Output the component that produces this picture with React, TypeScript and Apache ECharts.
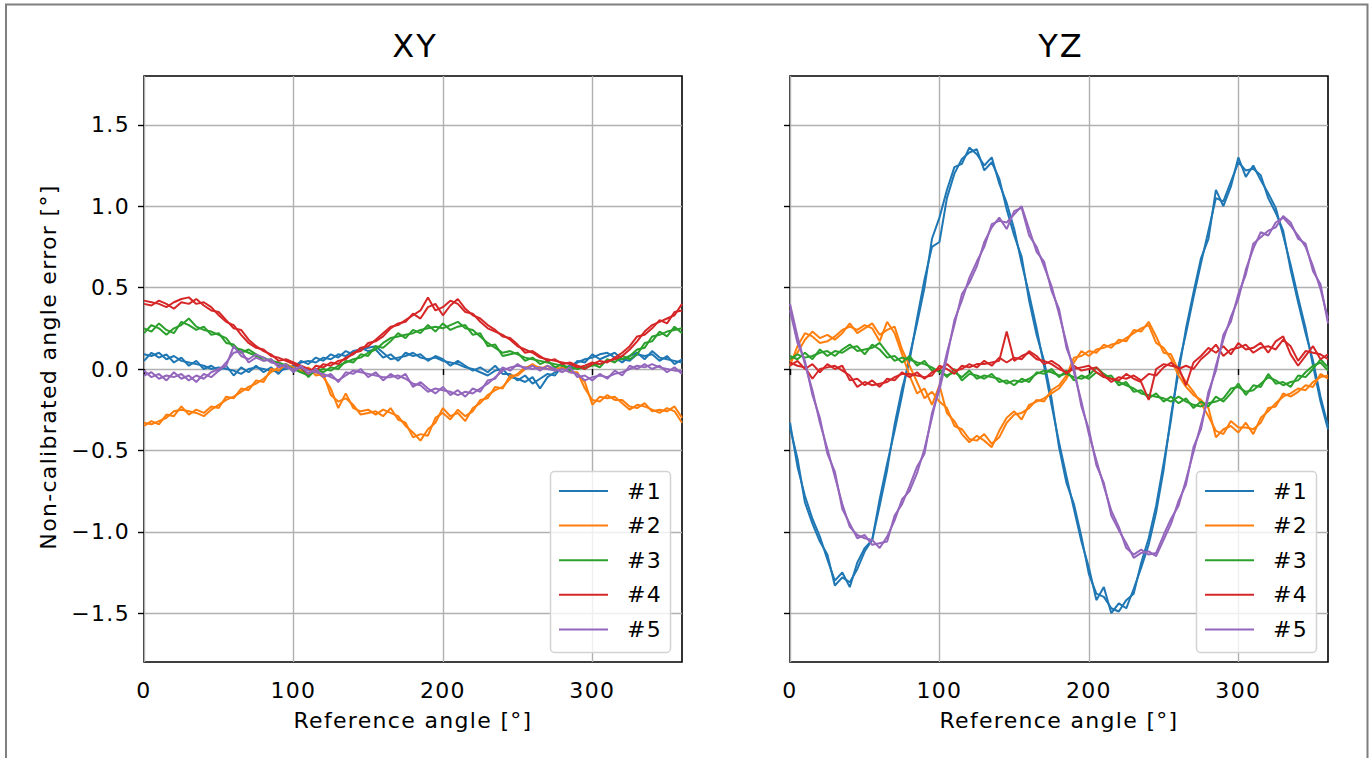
import React, { useEffect, useRef } from "react";
import * as echarts from "echarts";

// ---------------- data ----------------
const ANGLES = [
  0, 5, 10, 15, 20, 25, 30, 35, 40, 45,
  50, 55, 60, 65, 70, 75, 80, 85, 90, 95,
  100, 105, 110, 115, 120, 125, 130, 135, 140, 145,
  150, 155, 160, 165, 170, 175, 180, 185, 190, 195,
  200, 205, 210, 215, 220, 225, 230, 235, 240, 245,
  250, 255, 260, 265, 270, 275, 280, 285, 290, 295,
  300, 305, 310, 315, 320, 325, 330, 335, 340, 345,
  350, 355, 360,
];

const SENSORS = ["#1", "#2", "#3", "#4", "#5"];
const PANELS = ["XY", "YZ"];
const X_TICKS = [0, 100, 200, 300];
const Y_TICKS = [-1.5, -1.0, -0.5, 0.0, 0.5, 1.0, 1.5];

// XY panel, run A and run B
const XY_1A = [0.09, 0.08, 0.10, 0.06, 0.08, 0.05, 0.04, 0.03, 0.02, 0.00,
  0.01, 0.00, -0.01, -0.03, 0.00, 0.01, 0.00, -0.01, -0.01, 0.00,
  0.02, 0.04, 0.05, 0.04, 0.07, 0.06, 0.09, 0.08, 0.11, 0.12,
  0.13, 0.14, 0.10, 0.06, 0.07, 0.08, 0.10, 0.07, 0.06, 0.07,
  0.05, 0.04, 0.03, 0.01, 0.00, -0.02, -0.04, -0.01, 0.00, -0.05,
  -0.06, -0.08, -0.05, -0.12, -0.05, -0.02, 0.00, 0.02, 0.04, 0.06,
  0.07, 0.09, 0.10, 0.07, 0.04, 0.08, 0.10, 0.06, 0.11, 0.07,
  0.06, 0.05, 0.04];
const XY_1B = [0.05, 0.10, 0.07, 0.09, 0.04, 0.07, 0.02, 0.05, 0.00, 0.02,
  -0.01, 0.02, -0.04, 0.01, -0.02, 0.02, -0.02, 0.01, -0.03, 0.02,
  0.00, 0.05, 0.03, 0.07, 0.05, 0.09, 0.07, 0.11, 0.09, 0.13,
  0.11, 0.12, 0.07, 0.09, 0.05, 0.10, 0.08, 0.09, 0.05, 0.08,
  0.06, 0.02, 0.05, 0.02, -0.01, 0.01, -0.02, 0.02, -0.03, -0.03,
  -0.07, -0.04, -0.09, -0.06, -0.03, -0.04, 0.02, 0.00, 0.05, 0.04,
  0.09, 0.06, 0.08, 0.10, 0.06, 0.05, 0.09, 0.08, 0.09, 0.05,
  0.08, 0.03, 0.06];
const XY_2A = [-0.33, -0.34, -0.32, -0.30, -0.26, -0.25, -0.26, -0.27, -0.29, -0.25,
  -0.22, -0.19, -0.17, -0.14, -0.11, -0.09, -0.06, -0.02, 0.01, 0.02,
  0.00, -0.01, 0.00, -0.02, -0.05, -0.12, -0.24, -0.15, -0.24, -0.26,
  -0.25, -0.28, -0.25, -0.27, -0.29, -0.35, -0.39, -0.44, -0.37, -0.33,
  -0.24, -0.29, -0.27, -0.32, -0.24, -0.21, -0.16, -0.13, -0.11, -0.06,
  -0.03, 0.01, 0.02, 0.01, 0.00, 0.01, 0.00, -0.01, -0.03, -0.08,
  -0.22, -0.17, -0.18, -0.17, -0.21, -0.25, -0.22, -0.23, -0.25, -0.27,
  -0.24, -0.26, -0.33];
const XY_2B = [-0.35, -0.32, -0.34, -0.28, -0.29, -0.23, -0.28, -0.25, -0.27, -0.23,
  -0.24, -0.17, -0.18, -0.12, -0.13, -0.07, -0.08, 0.00, -0.01, 0.03,
  0.01, -0.02, 0.01, -0.04, -0.03, -0.16, -0.20, -0.18, -0.22, -0.28,
  -0.27, -0.26, -0.29, -0.24, -0.31, -0.33, -0.42, -0.40, -0.41, -0.30,
  -0.27, -0.31, -0.25, -0.29, -0.26, -0.19, -0.18, -0.11, -0.12, -0.04,
  -0.04, 0.00, 0.03, 0.00, 0.02, -0.01, 0.01, -0.02, -0.02, -0.12,
  -0.19, -0.20, -0.16, -0.19, -0.19, -0.23, -0.24, -0.21, -0.26, -0.25,
  -0.26, -0.23, -0.30];
const XY_3A = [0.22, 0.27, 0.25, 0.21, 0.25, 0.27, 0.31, 0.26, 0.24, 0.23,
  0.21, 0.19, 0.13, 0.12, 0.10, 0.08, 0.07, 0.05, 0.04, 0.02,
  0.00, -0.02, -0.04, -0.01, 0.00, -0.01, 0.02, 0.04, 0.06, 0.07,
  0.10, 0.12, 0.16, 0.19, 0.20, 0.21, 0.22, 0.24, 0.25, 0.26,
  0.25, 0.27, 0.29, 0.25, 0.24, 0.20, 0.16, 0.13, 0.10, 0.11,
  0.09, 0.07, 0.06, 0.05, 0.04, 0.03, 0.02, 0.01, 0.00, 0.01,
  0.02, 0.03, 0.05, 0.06, 0.06, 0.08, 0.12, 0.13, 0.20, 0.21,
  0.23, 0.24, 0.25];
const XY_3B = [0.25, 0.23, 0.28, 0.24, 0.22, 0.29, 0.27, 0.24, 0.26, 0.21,
  0.22, 0.16, 0.15, 0.10, 0.12, 0.09, 0.05, 0.06, 0.02, 0.03,
  -0.01, 0.01, -0.05, 0.00, -0.02, 0.01, 0.00, 0.05, 0.04, 0.09,
  0.08, 0.14, 0.13, 0.17, 0.22, 0.19, 0.24, 0.22, 0.27, 0.23,
  0.28, 0.24, 0.26, 0.27, 0.21, 0.22, 0.14, 0.15, 0.08, 0.09,
  0.10, 0.05, 0.07, 0.03, 0.05, 0.01, 0.03, -0.01, 0.02, 0.00,
  0.03, 0.01, 0.06, 0.04, 0.08, 0.06, 0.09, 0.16, 0.17, 0.23,
  0.20, 0.26, 0.22];
const XY_4A = [0.42, 0.41, 0.40, 0.38, 0.41, 0.43, 0.44, 0.40, 0.41, 0.38,
  0.33, 0.29, 0.27, 0.21, 0.16, 0.13, 0.12, 0.08, 0.07, 0.05,
  0.03, 0.01, -0.03, 0.02, 0.01, 0.04, 0.03, 0.07, 0.09, 0.13,
  0.14, 0.18, 0.22, 0.26, 0.27, 0.30, 0.33, 0.36, 0.44, 0.36,
  0.38, 0.42, 0.40, 0.35, 0.34, 0.29, 0.25, 0.23, 0.21, 0.18,
  0.14, 0.12, 0.10, 0.07, 0.06, 0.05, 0.04, 0.03, 0.01, 0.02,
  0.04, 0.03, 0.05, 0.06, 0.08, 0.12, 0.17, 0.23, 0.27, 0.29,
  0.31, 0.33, 0.40];
const XY_4B = [0.40, 0.39, 0.42, 0.40, 0.37, 0.41, 0.40, 0.43, 0.39, 0.36,
  0.35, 0.30, 0.25, 0.24, 0.18, 0.14, 0.11, 0.09, 0.05, 0.06,
  0.04, 0.02, 0.00, -0.01, 0.03, 0.02, 0.05, 0.06, 0.10, 0.11,
  0.16, 0.17, 0.20, 0.25, 0.28, 0.29, 0.34, 0.31, 0.38, 0.40,
  0.33, 0.39, 0.43, 0.37, 0.33, 0.31, 0.27, 0.24, 0.20, 0.19,
  0.15, 0.10, 0.11, 0.08, 0.05, 0.06, 0.03, 0.04, 0.02, 0.00,
  0.03, 0.05, 0.04, 0.07, 0.10, 0.14, 0.20, 0.21, 0.25, 0.30,
  0.28, 0.35, 0.36];
const XY_5A = [-0.04, -0.02, -0.06, -0.04, -0.05, -0.03, -0.07, -0.04, -0.06, -0.02,
  0.00, 0.02, 0.14, 0.08, 0.06, 0.09, 0.07, 0.04, 0.03, 0.01,
  0.00, 0.01, -0.01, -0.02, -0.03, -0.05, -0.07, -0.04, -0.01, -0.02,
  -0.03, -0.04, -0.05, -0.05, -0.04, -0.06, -0.09, -0.10, -0.14, -0.12,
  -0.13, -0.14, -0.16, -0.14, -0.15, -0.12, -0.09, -0.05, -0.01, 0.01,
  0.02, 0.01, 0.00, 0.01, 0.00, -0.01, 0.00, -0.02, -0.03, -0.07,
  -0.05, -0.04, -0.05, -0.03, -0.02, 0.00, 0.02, 0.01, 0.03, 0.01,
  0.00, -0.01, -0.01];
const XY_5B = [-0.01, -0.05, -0.03, -0.07, -0.02, -0.06, -0.04, -0.08, -0.03, -0.05,
  -0.01, 0.04, 0.10, 0.11, 0.04, 0.07, 0.05, 0.06, 0.01, 0.03,
  -0.02, 0.02, -0.03, 0.00, -0.05, -0.03, -0.08, -0.02, -0.03, 0.00,
  -0.05, -0.02, -0.07, -0.03, -0.06, -0.03, -0.11, -0.08, -0.12, -0.15,
  -0.11, -0.16, -0.13, -0.17, -0.12, -0.14, -0.07, -0.06, 0.01, -0.01,
  0.03, 0.00, 0.02, -0.01, 0.02, 0.00, -0.02, 0.01, -0.05, -0.04,
  -0.07, -0.03, -0.06, -0.01, -0.04, 0.02, 0.00, 0.03, 0.00, 0.02,
  -0.02, 0.01, -0.03];

// YZ panel, run A and run B
const YZ_1A = [-0.33, -0.60, -0.78, -0.92, -1.03, -1.17, -1.30, -1.25, -1.34, -1.19,
  -1.10, -1.05, -0.80, -0.58, -0.38, -0.16, 0.08, 0.28, 0.50, 0.80,
  0.93, 1.10, 1.24, 1.26, 1.36, 1.32, 1.25, 1.30, 1.14, 1.02,
  0.86, 0.65, 0.46, 0.25, 0.02, -0.22, -0.45, -0.66, -0.86, -1.06,
  -1.22, -1.42, -1.34, -1.50, -1.44, -1.47, -1.35, -1.22, -1.08, -0.88,
  -0.62, -0.28, -0.02, 0.25, 0.47, 0.68, 0.80, 1.10, 1.00, 1.12,
  1.30, 1.18, 1.25, 1.16, 1.08, 0.99, 0.82, 0.64, 0.44, 0.25,
  0.02, -0.20, -0.37];
const YZ_1B = [-0.36, -0.55, -0.82, -0.95, -1.06, -1.14, -1.33, -1.28, -1.31, -1.23,
  -1.12, -1.05, -0.84, -0.62, -0.34, -0.12, 0.05, 0.31, 0.55, 0.75,
  0.78, 1.05, 1.20, 1.29, 1.33, 1.35, 1.22, 1.27, 1.17, 0.98,
  0.82, 0.69, 0.42, 0.21, 0.05, -0.18, -0.48, -0.70, -0.83, -1.03,
  -1.26, -1.38, -1.40, -1.47, -1.49, -1.42, -1.38, -1.19, -1.04, -0.84,
  -0.58, -0.31, 0.02, 0.22, 0.44, 0.65, 0.85, 1.05, 1.03, 1.15,
  1.27, 1.22, 1.23, 1.19, 1.05, 0.96, 0.85, 0.61, 0.41, 0.22,
  0.05, -0.17, -0.35];
const YZ_2A = [0.02, 0.14, 0.22, 0.20, 0.16, 0.17, 0.20, 0.24, 0.26, 0.24,
  0.27, 0.25, 0.17, 0.29, 0.22, 0.09, -0.04, -0.15, -0.12, -0.22,
  -0.10, -0.27, -0.32, -0.40, -0.45, -0.41, -0.44, -0.48, -0.38, -0.30,
  -0.26, -0.31, -0.22, -0.20, -0.18, -0.15, -0.12, -0.06, 0.04, 0.11,
  0.08, 0.12, 0.13, 0.15, 0.16, 0.19, 0.22, 0.25, 0.27, 0.16,
  0.13, 0.06, -0.04, -0.11, -0.16, -0.19, -0.24, -0.42, -0.37, -0.35,
  -0.39, -0.33, -0.40, -0.30, -0.26, -0.21, -0.17, -0.15, -0.12, -0.13,
  -0.08, -0.05, -0.04];
const YZ_2B = [0.05, 0.10, 0.18, 0.23, 0.19, 0.21, 0.18, 0.22, 0.28, 0.22,
  0.25, 0.28, 0.21, 0.24, 0.26, 0.12, 0.02, -0.08, -0.18, -0.14,
  -0.20, -0.24, -0.35, -0.37, -0.43, -0.44, -0.40, -0.46, -0.42, -0.33,
  -0.28, -0.27, -0.24, -0.19, -0.20, -0.13, -0.10, -0.04, 0.07, 0.08,
  0.11, 0.10, 0.15, 0.13, 0.18, 0.17, 0.24, 0.23, 0.29, 0.20,
  0.10, 0.09, -0.01, -0.08, -0.14, -0.21, -0.29, -0.38, -0.40, -0.32,
  -0.36, -0.36, -0.37, -0.33, -0.24, -0.23, -0.15, -0.17, -0.14, -0.10,
  -0.11, -0.03, -0.06];
const YZ_3A = [0.06, 0.09, 0.07, 0.08, 0.10, 0.11, 0.08, 0.12, 0.15, 0.11,
  0.12, 0.13, 0.16, 0.10, 0.05, 0.07, 0.06, 0.04, 0.03, 0.01,
  -0.02, -0.04, -0.02, -0.05, -0.01, -0.06, -0.04, -0.05, -0.06, -0.09,
  -0.07, -0.08, -0.06, -0.03, -0.01, -0.02, -0.04, -0.03, -0.05, -0.06,
  -0.04, 0.01, -0.03, -0.06, -0.08, -0.10, -0.12, -0.15, -0.16, -0.17,
  -0.18, -0.20, -0.17, -0.20, -0.22, -0.23, -0.21, -0.20, -0.18, -0.12,
  -0.11, -0.14, -0.13, -0.09, -0.05, -0.07, -0.10, -0.08, -0.07, -0.02,
  0.02, 0.04, -0.01];
const YZ_3B = [0.08, 0.06, 0.10, 0.06, 0.12, 0.08, 0.11, 0.10, 0.13, 0.14,
  0.09, 0.15, 0.12, 0.07, 0.08, 0.04, 0.08, 0.02, 0.05, -0.01,
  0.00, -0.05, 0.00, -0.07, -0.03, -0.04, -0.06, -0.03, -0.08, -0.07,
  -0.10, -0.06, -0.08, -0.02, -0.03, 0.00, -0.05, -0.01, -0.07, -0.04,
  -0.06, -0.02, -0.05, -0.04, -0.10, -0.08, -0.14, -0.13, -0.18, -0.15,
  -0.20, -0.17, -0.21, -0.18, -0.24, -0.20, -0.23, -0.17, -0.20, -0.15,
  -0.09, -0.16, -0.10, -0.11, -0.03, -0.09, -0.08, -0.11, -0.04, -0.05,
  0.00, 0.06, 0.01];
const YZ_4A = [0.04, 0.02, 0.01, -0.06, 0.00, 0.01, 0.02, -0.01, -0.04, -0.11,
  -0.08, -0.10, -0.09, -0.08, -0.05, -0.03, -0.03, -0.04, -0.05, -0.04,
  0.02, 0.00, -0.03, 0.02, 0.01, 0.03, 0.03, 0.04, 0.05, 0.23,
  0.05, 0.08, 0.10, 0.06, 0.05, 0.03, 0.00, -0.02, 0.00, 0.01,
  0.02, -0.02, -0.05, -0.06, -0.07, -0.03, -0.06, -0.08, -0.19, 0.00,
  0.03, 0.02, 0.01, -0.10, 0.04, 0.08, 0.13, 0.10, 0.14, 0.09,
  0.16, 0.12, 0.13, 0.16, 0.10, 0.17, 0.20, 0.09, 0.02, 0.08,
  0.14, 0.06, 0.09];
const YZ_4B = [0.02, 0.05, 0.00, 0.03, -0.02, 0.03, 0.00, 0.02, -0.07, -0.06,
  -0.10, -0.07, -0.11, -0.06, -0.07, -0.02, -0.05, -0.02, -0.06, -0.02,
  0.00, 0.03, -0.01, 0.00, 0.03, 0.01, 0.05, 0.02, 0.07, 0.04,
  0.07, 0.06, 0.11, 0.08, 0.03, 0.05, 0.02, -0.03, 0.02, -0.01,
  0.00, 0.01, -0.04, -0.08, -0.05, -0.06, -0.04, -0.07, -0.03, -0.04,
  0.01, 0.04, 0.00, 0.02, 0.00, 0.06, 0.10, 0.15, 0.08, 0.12,
  0.13, 0.15, 0.10, 0.13, 0.14, 0.12, 0.18, 0.14, 0.05, 0.11,
  0.10, 0.09, 0.06];
const YZ_5A = [0.40, 0.20, 0.03, -0.13, -0.33, -0.49, -0.66, -0.83, -0.97, -1.02,
  -1.04, -1.05, -1.10, -1.03, -0.93, -0.80, -0.75, -0.64, -0.49, -0.30,
  -0.10, 0.10, 0.27, 0.46, 0.53, 0.63, 0.78, 0.87, 0.93, 0.86,
  0.97, 0.99, 0.82, 0.75, 0.63, 0.51, 0.34, 0.16, -0.02, -0.20,
  -0.40, -0.56, -0.72, -0.87, -0.97, -1.10, -1.14, -1.11, -1.14, -1.13,
  -1.02, -0.92, -0.84, -0.68, -0.51, -0.34, -0.17, 0.02, 0.18, 0.32,
  0.43, 0.61, 0.74, 0.84, 0.82, 0.90, 0.93, 0.88, 0.82, 0.75,
  0.63, 0.49, 0.31];
const YZ_5B = [0.36, 0.16, 0.05, -0.16, -0.30, -0.52, -0.63, -0.86, -0.95, -1.04,
  -1.02, -1.08, -1.07, -1.06, -0.90, -0.83, -0.72, -0.60, -0.52, -0.27,
  -0.13, 0.07, 0.30, 0.42, 0.56, 0.66, 0.75, 0.89, 0.91, 0.90,
  0.95, 1.00, 0.86, 0.72, 0.66, 0.48, 0.37, 0.13, 0.01, -0.23,
  -0.37, -0.59, -0.70, -0.90, -0.99, -1.07, -1.16, -1.13, -1.12, -1.15,
  -1.05, -0.95, -0.81, -0.71, -0.48, -0.37, -0.14, -0.01, 0.21, 0.29,
  0.46, 0.58, 0.77, 0.81, 0.85, 0.87, 0.94, 0.90, 0.80, 0.77,
  0.60, 0.52, 0.28];

const PANEL_RUNS = [
  [[XY_1A, XY_1B], [XY_2A, XY_2B], [XY_3A, XY_3B], [XY_4A, XY_4B], [XY_5A, XY_5B]],
  [[YZ_1A, YZ_1B], [YZ_2A, YZ_2B], [YZ_3A, YZ_3B], [YZ_4A, YZ_4B], [YZ_5A, YZ_5B]],
];

// ---------------- styling ----------------
const COLORS = ["#1f77b4", "#ff7f0e", "#2ca02c", "#d62728", "#9467bd"];
const FONT = "DejaVu Sans";
const GRID_LEFT = [144, 790];
const GRID_TOP = 76;
const GRID_W = 538;
const GRID_H = 586;
const FS = 22;

const fmtY = (v: number) => (v < 0 ? "\u2212" : "") + Math.abs(v).toFixed(1);

function buildOption() {
  const series: any[] = [];
  PANEL_RUNS.forEach((runs, p) => {
    runs.forEach((pair, k) => {
      pair.forEach((vals) => {
        series.push({
          type: "line",
          name: SENSORS[k],
          xAxisIndex: p,
          yAxisIndex: p,
          data: ANGLES.map((a, i) => [a, vals[i]]),
          symbol: "none",
          silent: true,
          lineStyle: { width: 2, color: COLORS[k] },
          itemStyle: { color: COLORS[k] },
          z: 2,
        });
      });
    });
  });

  const grids = GRID_LEFT.map((l) => ({
    left: l,
    top: GRID_TOP,
    width: GRID_W,
    height: GRID_H,
    show: true,
    borderColor: "#000",
    borderWidth: 1.6,
    backgroundColor: "transparent",
    containLabel: false,
    outerBoundsMode: "none",
  }));

  const xAxes = GRID_LEFT.map((_, p) => ({
    type: "value",
    gridIndex: p,
    min: 0,
    max: 360,
    axisLine: { show: false },
    axisTick: {
      show: true,
      length: 6,
      lineStyle: { color: "#000", width: 1.4 },
      customValues: X_TICKS,
    },
    axisLabel: {
      show: true,
      customValues: X_TICKS,
      margin: 17,
      fontSize: FS,
      fontFamily: FONT,
      color: "#000",
    },
    splitLine: { show: true, lineStyle: { color: "#b0b0b0", width: 1.4 } },
    name: "Reference angle [\u00b0]",
    nameLocation: "middle",
    nameGap: 47,
    nameTextStyle: { fontSize: FS, fontFamily: FONT, color: "#000" },
  }));

  const yAxes = GRID_LEFT.map((_, p) => ({
    type: "value",
    gridIndex: p,
    min: -1.8,
    max: 1.8,
    axisLine: { show: false },
    axisTick: {
      show: true,
      length: 6,
      lineStyle: { color: "#000", width: 1.4 },
      customValues: Y_TICKS,
    },
    axisLabel: {
      show: p === 0,
      customValues: Y_TICKS,
      formatter: fmtY,
      margin: 14,
      fontSize: FS,
      fontFamily: FONT,
      color: "#000",
    },
    splitLine: { show: true, lineStyle: { color: "#b0b0b0", width: 1.3 } },
  }));

  const legends = GRID_LEFT.map((l) => ({
    data: SENSORS,
    orient: "vertical",
    left: l + 415,
    top: 480,
    padding: 0,
    itemWidth: 49,
    itemHeight: 2,
    itemGap: 12.6,
    icon: "rect",
    selectedMode: false,
    z: 6,
    textStyle: {
      fontSize: FS,
      fontFamily: FONT,
      color: "#000",
      lineHeight: 22,
      padding: [0, 0, 0, 14],
    },
  }));

  const graphics: any[] = [
    {
      type: "polyline",
      silent: true,
      z: 0,
      shape: { points: [[6, 758], [6, 4.5], [1367.5, 4.5], [1367.5, 758]] },
      style: { stroke: "#7f7f7f", lineWidth: 2, fill: null },
    },
    {
      type: "text",
      x: 48,
      y: 367,
      rotation: Math.PI / 2,
      silent: true,
      style: {
        text: "Non-calibrated angle error [\u00b0]",
        font: `${FS}px '${FONT}'`,
        fill: "#000",
        textAlign: "center",
        textVerticalAlign: "middle",
        align: "center",
        verticalAlign: "middle",
      },
    },
  ];
  GRID_LEFT.forEach((l, p) => {
    graphics.push({
      type: "text",
      x: l + GRID_W / 2 + 2,
      y: 46,
      silent: true,
      style: {
        text: PANELS[p],
        font: `32px '${FONT}'`,
        fill: "#000",
        textAlign: "center",
        textVerticalAlign: "middle",
        align: "center",
        verticalAlign: "middle",
      },
    });
    graphics.push({
      type: "rect",
      silent: true,
      z: 5,
      shape: { x: l + 406.5, y: 471.5, width: 120, height: 181, r: 4 },
      style: { fill: "rgba(255,255,255,0.8)", stroke: "#d3d3d3", lineWidth: 1.5 },
    });
  });

  return {
    animation: false,
    backgroundColor: "#fff",
    textStyle: { fontFamily: FONT },
    grid: grids,
    xAxis: xAxes,
    yAxis: yAxes,
    legend: legends,
    series,
    graphic: graphics,
  };
}

export default function App() {
  const ref = useRef<HTMLDivElement | null>(null);
  useEffect(() => {
    const el = ref.current;
    if (!el) return;
    const styleEl = document.createElement("style");
    styleEl.textContent = ".mpl-chart svg text { letter-spacing: 0.06em; }";
    document.head.appendChild(styleEl);
    const chart = echarts.init(el, null, { renderer: "svg", width: 1370, height: 758 });
    chart.setOption(buildOption() as any);
    return () => {
      chart.dispose();
      styleEl.remove();
    };
  }, []);
  return (
    <div
      ref={ref}
      className="mpl-chart"
      style={{ position: "fixed", left: 0, top: 0, width: 1370, height: 758, background: "#fff" }}
    />
  );
}
